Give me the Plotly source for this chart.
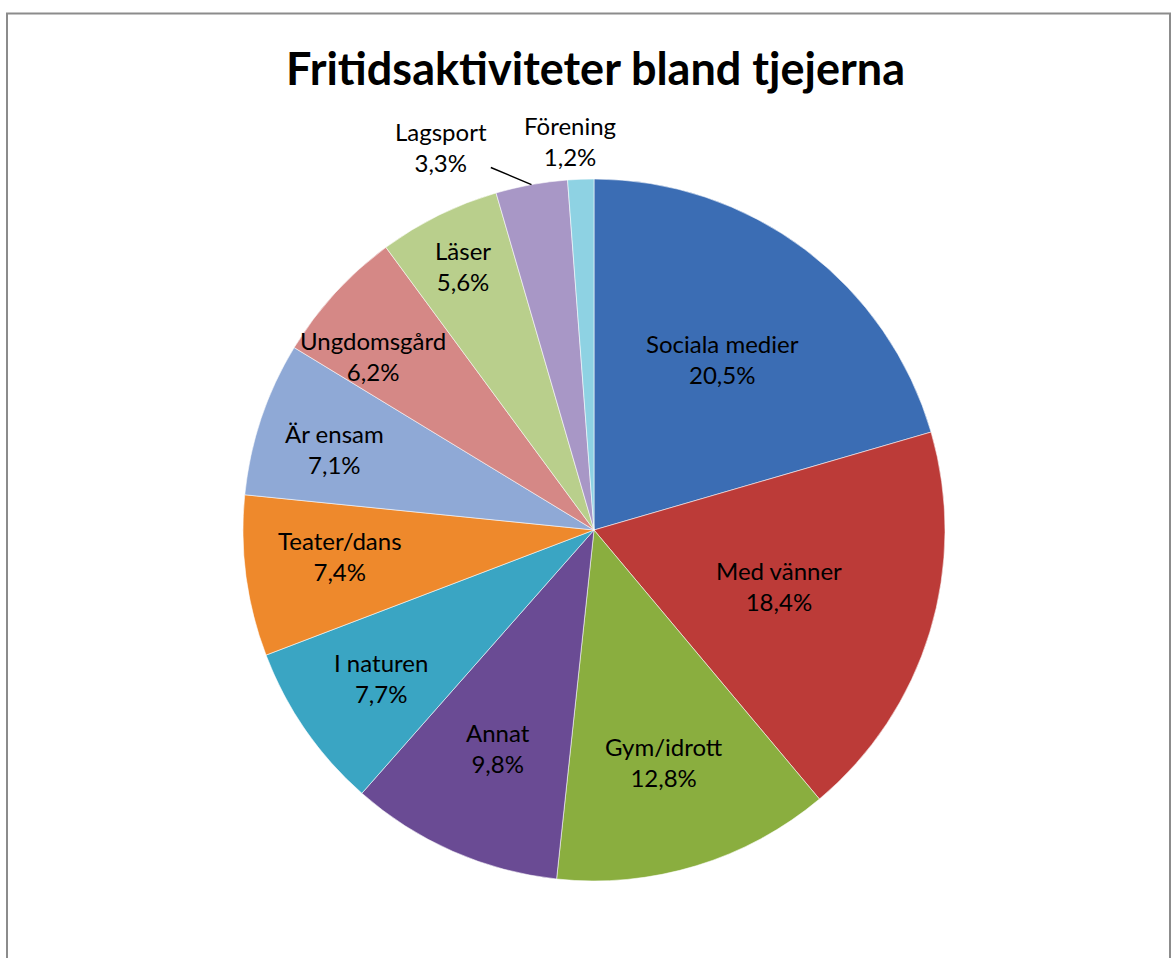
import math
import plotly.graph_objects as go

categories = ["Sociala medier", "Med vänner", "Gym/idrott", "Annat", "I naturen",
              "Teater/dans", "Är ensam", "Ungdomsgård", "Läser", "Lagsport", "Förening"]
values = [20.5, 18.4, 12.8, 9.8, 7.7, 7.4, 7.1, 6.2, 5.6, 3.3, 1.2]
colors = ["#3B6DB4", "#BC3B38", "#8AAE3F", "#6A4B94", "#3AA5C3", "#EE892C",
          "#8FA9D6", "#D58886", "#B9CF8C", "#A897C6", "#8ED2E3"]
title_text = "Fritidsaktiviteter bland tjejerna"

labels_text = [f"{c}<br>{v:.1f}%".replace(".", ",") for c, v in zip(categories, values)]

# ---- layout / style ----
W, H = 1171, 958
cx, cy, r = 594, 530, 351
FONT = "Lato, Open Sans, sans-serif"
# radial placement of each data label (fraction of radius), like Excel's label layout
label_radius = [0.61, 0.55, 0.69, 0.68, 0.74, 0.73, 0.78, 0.80, 0.84, 1.0, 1.11]
# Lagsport label sits off to the side with a leader line (pixel offset of text from slice edge)
leader = {9: (-90, -38)}
# small pixel nudges of some labels (x, y; y downward)
label_nudge = {5: (0, -8), 6: (0, 6), 7: (-14, 16), 10: (-9, 0)}

fig = go.Figure(go.Pie(
    labels=categories,
    values=values,
    textinfo="none",
    sort=False,
    direction="clockwise",
    rotation=0,
    marker=dict(colors=colors, line=dict(color="rgba(255,255,255,0.55)", width=1)),
    hoverinfo="label+percent",
    showlegend=False,
    domain=dict(x=[(cx - r) / W, (cx + r) / W], y=[(H - cy - r) / H, (H - cy + r) / H]),
))

total = sum(values)
annotations = []
cum = 0.0
for i, (txt, v) in enumerate(zip(labels_text, values)):
    mid = (cum + v / 2) / total * 2 * math.pi  # clockwise from 12 o'clock
    cum += v
    rad = label_radius[i] * r
    px = cx + rad * math.sin(mid)
    py = cy - rad * math.cos(mid)
    ann = dict(text=txt, x=px / W, y=1 - py / H, xref="paper", yref="paper",
               xanchor="center", yanchor="middle", align="center",
               font=dict(family=FONT, size=24, color="black"))
    if i in leader:
        ax, ay = leader[i]
        ann.update(showarrow=True, arrowhead=0, arrowwidth=1.5, arrowcolor="black",
                   ax=ax, ay=ay, standoff=0, startstandoff=2)
    else:
        dx, dy = label_nudge.get(i, (0, 0))
        ann.update(showarrow=False, xshift=dx, yshift=-dy)
    annotations.append(ann)

annotations.append(dict(text=f"<b>{title_text}</b>", x=595 / W, y=1 - 68 / H,
                        xref="paper", yref="paper", showarrow=False,
                        xanchor="center", yanchor="middle",
                        font=dict(family=FONT, size=45, color="black")))

fig.update_layout(
    width=W, height=H,
    margin=dict(l=0, r=0, t=0, b=0),
    paper_bgcolor="white",
    annotations=annotations,
    shapes=[dict(type="rect", xref="paper", yref="paper",
                 x0=7 / W, x1=1170 / W, y0=-0.05, y1=1 - 13.5 / H,
                 line=dict(color="#8C8C8C", width=2), fillcolor="rgba(0,0,0,0)")],
)

fig.write_html("out.html", config={"displayModeBar": False},
               post_script="document.body.style.margin='0';document.body.style.overflow='hidden';")
